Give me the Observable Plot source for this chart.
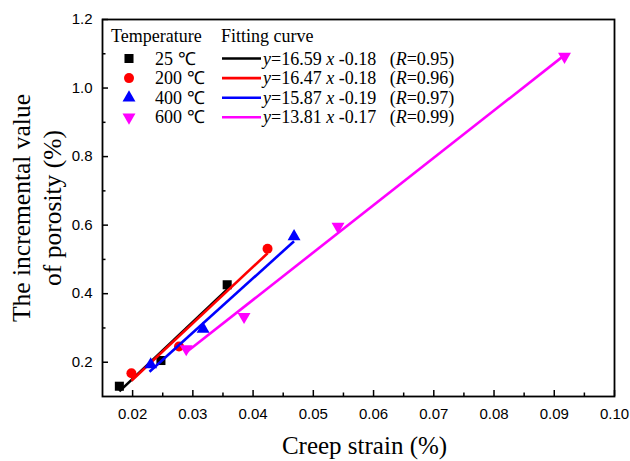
<!DOCTYPE html>
<html><head><meta charset="utf-8">
<script src="https://cdn.jsdelivr.net/npm/d3@7"></script>
<script src="https://cdn.jsdelivr.net/npm/@observablehq/plot@0.6"></script>
<style>body{margin:0;background:#fff} #chart{width:630px;height:461px}</style>
</head><body><div id="chart"></div>
<script>
// ---- data ----
const temperatures = ["25 ℃", "200 ℃", "400 ℃", "600 ℃"];
const seriesColors = ["#000000", "#ff0000", "#0000ff", "#ff00ff"];
const strain25 = [0.0178, 0.0247, 0.0357];
const porosity25 = [0.130, 0.205, 0.426];
const strain200 = [0.0198, 0.0277, 0.0424];
const porosity200 = [0.168, 0.246, 0.531];
const strain400 = [0.0230, 0.0317, 0.0468];
const porosity400 = [0.193, 0.297, 0.567];
const strain600 = [0.0289, 0.0385, 0.0541, 0.0917];
const porosity600 = [0.239, 0.333, 0.596, 1.092];
// fitted lines (end points) and legend equations
const fitStartX = [0.0178, 0.0198, 0.0228, 0.0289];
const fitStartY = [0.115, 0.146, 0.172, 0.229];
const fitEndX = [0.0357, 0.0424, 0.0468, 0.0917];
const fitEndY = [0.412, 0.518, 0.553, 1.096];
const fitSlopes = ["16.59", "16.47", "15.87", "13.81"];
const fitIntercepts = ["-0.18", "-0.18", "-0.19", "-0.17"];
const fitR = ["0.95", "0.96", "0.97", "0.99"];
// axes
const xTicks = [0.02, 0.03, 0.04, 0.05, 0.06, 0.07, 0.08, 0.09, 0.10];
const xMinor = [0.025, 0.035, 0.045, 0.055, 0.065, 0.075, 0.085, 0.095];
const yTicks = [0.2, 0.4, 0.6, 0.8, 1.0, 1.2];
const yMinor = [0.3, 0.5, 0.7, 0.9, 1.1];
const xDomain = [0.015, 0.10];
const yDomain = [0.1, 1.2];
const xTitle = "Creep strain (%)";
const yTitle = "The incremental value\nof porosity (%)";
const legendHeaders = ["Temperature", "Fitting curve"];

// ---- symbols ----
const invTriangle = {
  draw(context, size) {
    const s = Math.sqrt(size * 4 / Math.sqrt(3));
    const h = s * Math.sqrt(3) / 2;
    context.moveTo(0, 2 * h / 3);
    context.lineTo(-s / 2, -h / 3);
    context.lineTo(s / 2, -h / 3);
    context.closePath();
  }
};
const symbols = ["square", "circle", "triangle", invTriangle];
const radii = [5.1, 5.0, 4.8, 4.8];

const strains = [strain25, strain200, strain400, strain600];
const porosities = [porosity25, porosity200, porosity400, porosity600];
const points = [];
strains.forEach((xs, i) => xs.forEach((x, j) => points.push({s: i, x, y: porosities[i][j]})));
const fits = temperatures.map((t, i) => ({s: i, x1: fitStartX[i], y1: fitStartY[i], x2: fitEndX[i], y2: fitEndY[i]}));

const W = 630, H = 461, mL = 102, mR = 16, mT = 19, mB = 65;
const serif = "'Liberation Serif', 'Times New Roman', serif";
const sans = "'Liberation Sans', Arial, sans-serif";

const marks = [
  Plot.ruleX(xTicks, {x: d => d, insetTop: H - mT - mB - 6, stroke: "#000", strokeWidth: 1.5}),
  Plot.ruleX(xMinor, {x: d => d, insetTop: H - mT - mB - 3.5, stroke: "#000", strokeWidth: 1.5}),
  Plot.ruleY(yTicks, {y: d => d, insetRight: W - mL - mR - 6, stroke: "#000", strokeWidth: 1.5}),
  Plot.ruleY(yMinor, {y: d => d, insetRight: W - mL - mR - 3.5, stroke: "#000", strokeWidth: 1.5}),
  Plot.axisX({ticks: xTicks, tickSize: 0, tickPadding: 12, tickFormat: d3.format(".2f"), fontSize: 15, fontFamily: sans, label: null}),
  Plot.axisY({ticks: yTicks, tickSize: 0, tickPadding: 10, tickFormat: d3.format(".1f"), fontSize: 15, fontFamily: sans, label: null})
];
[0, 1, 2, 3].forEach(i => {
  marks.push(Plot.link(fits.filter(d => d.s === i), {x1: "x1", y1: "y1", x2: "x2", y2: "y2", stroke: seriesColors[i], strokeWidth: 2.6}));
  marks.push(Plot.dot(points.filter(d => d.s === i), {x: "x", y: "y", fill: seriesColors[i], stroke: "none", symbol: () => symbols[i], r: radii[i]}));
});
marks.push(Plot.frame({stroke: "#000", strokeWidth: 1.8}));
marks.push(Plot.text([xTitle], {frameAnchor: "bottom", text: d => d, dy: 57, dx: 6, fontSize: 25, fontFamily: serif, fill: "#000"}));
marks.push(Plot.text([yTitle], {frameAnchor: "left", textAnchor: "middle", text: d => d, rotate: -90, dx: -67, lineHeight: 1.2, fontSize: 25.5, fontFamily: serif, fill: "#000"}));

const svg = Plot.plot({
  width: W, height: H,
  marginLeft: mL, marginRight: mR, marginTop: mT, marginBottom: mB,
  x: {domain: xDomain},
  y: {domain: yDomain},
  style: {fontFamily: sans, fontSize: "15px", background: "#fff", color: "#000"},
  marks
});

// ---- legend ----
const g = d3.select(svg).append("g")
  .style("font-family", serif).style("font-size", "18px").attr("fill", "#000").attr("text-anchor", "start");
g.append("text").attr("x", 111).attr("y", 42).text(legendHeaders[0]);
g.append("text").attr("x", 221).attr("y", 42).text(legendHeaders[1]);
temperatures.forEach((t, i) => {
  const cy = 58.5 + i * 19.6;
  const sym = typeof symbols[i] === "string"
    ? ({square: d3.symbolSquare, circle: d3.symbolCircle, triangle: d3.symbolTriangle})[symbols[i]]
    : symbols[i];
  g.append("path").attr("transform", `translate(129,${cy})`)
    .attr("d", d3.symbol(sym, Math.PI * radii[i] * radii[i])())
    .attr("fill", seriesColors[i]);
  g.append("text").attr("x", 155).attr("y", cy + 6).text(t);
  g.append("line").attr("x1", 222).attr("x2", 261).attr("y1", cy).attr("y2", cy)
    .attr("stroke", seriesColors[i]).attr("stroke-width", 2.6);
  const tx = g.append("text").attr("x", 263).attr("y", cy + 6).style("white-space", "pre");
  tx.append("tspan").attr("font-style", "italic").text("y");
  tx.append("tspan").text("=" + fitSlopes[i] + " ");
  tx.append("tspan").attr("font-style", "italic").text("x");
  tx.append("tspan").text(" " + fitIntercepts[i] + "   (");
  tx.append("tspan").attr("font-style", "italic").text("R");
  tx.append("tspan").text("=" + fitR[i] + ")");
});

document.getElementById("chart").appendChild(svg);
</script>
</body></html>
